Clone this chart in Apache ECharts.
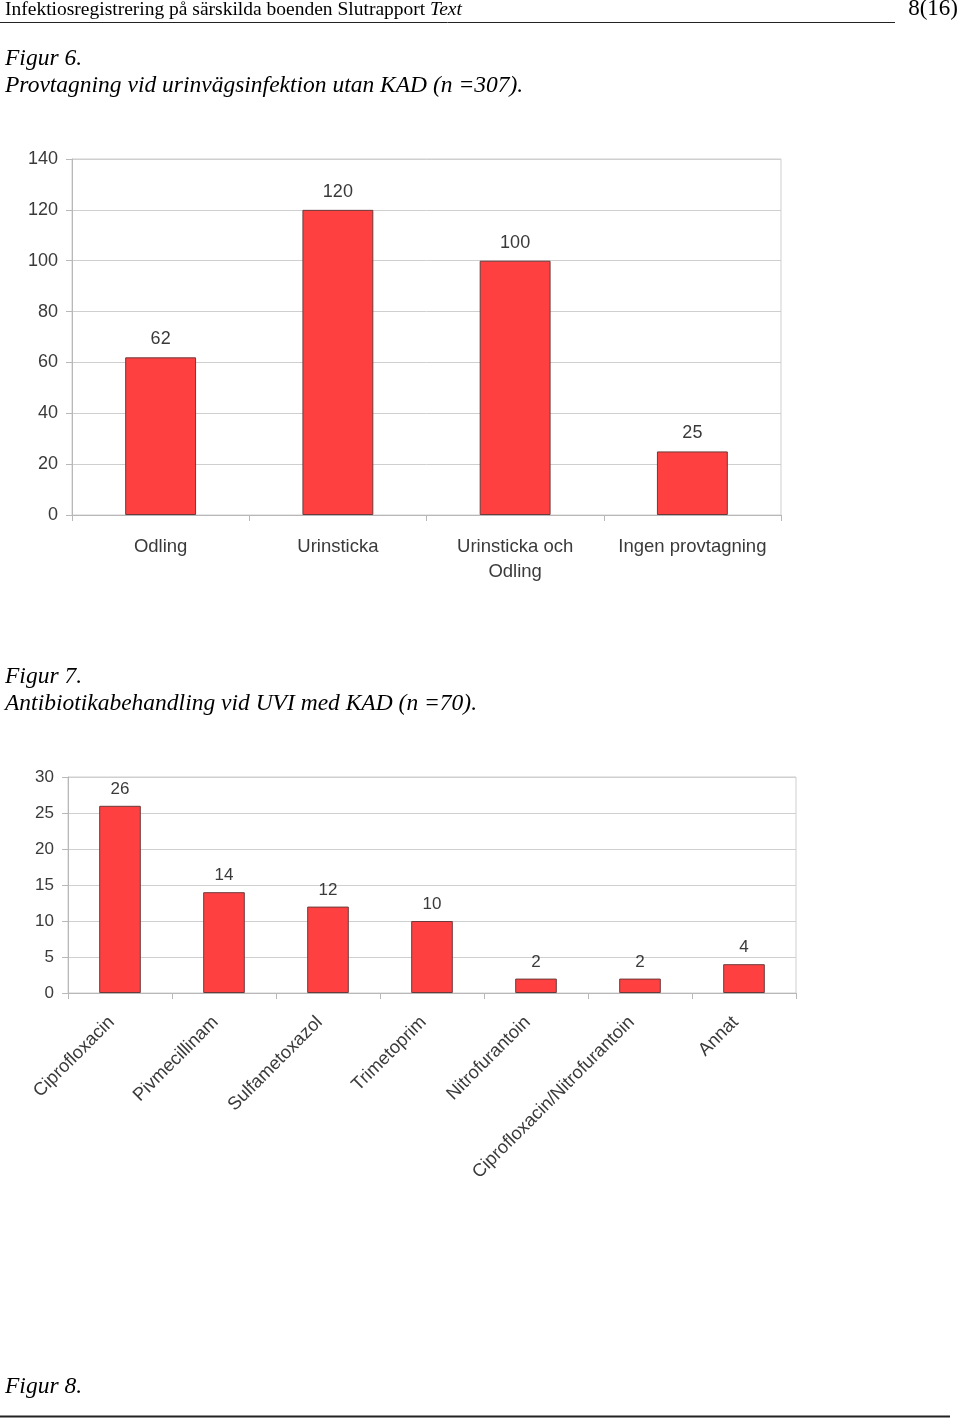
<!DOCTYPE html>
<html>
<head>
<meta charset="utf-8">
<script src="https://cdn.jsdelivr.net/npm/echarts@6/dist/echarts.min.js"></script>
<style>
html,body{margin:0;padding:0;background:#fff;}
#c{width:960px;height:1419px;}
</style>
</head>
<body>
<div id="c"></div>
<script>
// Figur 6 data
const fig6Categories = ['Odling', 'Urinsticka', 'Urinsticka och\nOdling', 'Ingen provtagning'];
const fig6Values = [62, 120, 100, 25];
const fig6YTicks = [0, 20, 40, 60, 80, 100, 120, 140];

// Figur 7 data
const fig7Categories = ['Ciprofloxacin', 'Pivmecillinam', 'Sulfametoxazol', 'Trimetoprim', 'Nitrofurantoin', 'Ciprofloxacin/Nitrofurantoin', 'Annat'];
const fig7Values = [26, 14, 12, 10, 2, 2, 4];
const fig7YTicks = [0, 5, 10, 15, 20, 25, 30];

const textColor = '#3a3a3a';
const gridGrey = '#cfcfcf';
const axisGrey = '#b8b8b8';
const barColor = '#ff4040';
const barBorder = '#6a3a3a';
const sans = '"Liberation Sans", Arial, sans-serif';
const serif = '"Liberation Serif", "Times New Roman", serif';

function yAxis(gridIndex, ticks, fontSize) {
  return {
    type: 'value', gridIndex: gridIndex,
    min: ticks[0], max: ticks[ticks.length - 1], interval: ticks[1] - ticks[0],
    axisLine: {show: true, lineStyle: {color: axisGrey}},
    axisTick: {show: true, length: 6, lineStyle: {color: axisGrey}},
    axisLabel: {color: textColor, fontSize: fontSize, fontFamily: sans, margin: 14},
    splitLine: {show: true, lineStyle: {color: gridGrey}}
  };
}

const chart = echarts.init(document.getElementById('c'), null, {renderer: 'canvas'});
chart.setOption({
  backgroundColor: '#fff',
  animation: false,
  grid: [
    {left: 72, right: 179, top: 159, height: 356, show: true, borderColor: gridGrey, borderWidth: 1, containLabel: false},
    {left: 68, right: 164, top: 777, height: 216, show: true, borderColor: gridGrey, borderWidth: 1, containLabel: false}
  ],
  xAxis: [
    {
      type: 'category', gridIndex: 0, data: fig6Categories,
      axisLine: {show: true, lineStyle: {color: axisGrey}},
      axisTick: {show: true, length: 6, interval: 0, lineStyle: {color: axisGrey}},
      axisLabel: {color: textColor, fontSize: 18.5, fontFamily: sans, margin: 19, interval: 0, lineHeight: 25}
    },
    {
      type: 'category', gridIndex: 1, data: fig7Categories,
      axisLine: {show: true, lineStyle: {color: axisGrey}},
      axisTick: {show: true, length: 6, interval: 0, lineStyle: {color: axisGrey}},
      axisLabel: {color: textColor, fontSize: 18.3, fontFamily: sans, margin: 18, interval: 0, rotate: 45, padding: [0, 12, 0, 0]}
    }
  ],
  yAxis: [yAxis(0, fig6YTicks, 18), yAxis(1, fig7YTicks, 17)],
  series: [
    {
      type: 'bar', xAxisIndex: 0, yAxisIndex: 0, data: fig6Values, barWidth: '40%',
      itemStyle: {color: barColor, borderColor: barBorder, borderWidth: 1},
      label: {show: true, position: 'top', distance: 9, color: textColor, fontSize: 18, fontFamily: sans}
    },
    {
      type: 'bar', xAxisIndex: 1, yAxisIndex: 1, data: fig7Values, barWidth: '40%',
      itemStyle: {color: barColor, borderColor: barBorder, borderWidth: 1},
      label: {show: true, position: 'top', distance: 8, color: textColor, fontSize: 17, fontFamily: sans}
    }
  ],
  graphic: [
    {type: 'text', left: 5, top: 0, style: {
      text: '{n|Infektiosregistrering på särskilda boenden Slutrapport }{i|Text}',
      rich: {
        n: {font: '19.5px ' + serif, fill: '#000'},
        i: {font: 'italic 19.5px ' + serif, fill: '#000'}
      }
    }},
    {type: 'text', right: 2, top: -3, style: {text: '8(16)', font: '23px ' + serif, fill: '#000'}},
    {type: 'line', shape: {x1: 0, y1: 22.5, x2: 895, y2: 22.5}, style: {stroke: '#222', lineWidth: 1}},
    {type: 'text', left: 5, top: 47, style: {text: 'Figur 6.', font: 'italic 23.5px ' + serif, fill: '#000'}},
    {type: 'text', left: 5, top: 74, style: {text: 'Provtagning vid urinvägsinfektion utan KAD (n =307).', font: 'italic 23.5px ' + serif, fill: '#000'}},
    {type: 'text', left: 5, top: 665, style: {text: 'Figur 7.', font: 'italic 23.5px ' + serif, fill: '#000'}},
    {type: 'text', left: 5, top: 692, style: {text: 'Antibiotikabehandling vid UVI med KAD (n =70).', font: 'italic 23.5px ' + serif, fill: '#000'}},
    {type: 'text', left: 5, top: 1375, style: {text: 'Figur 8.', font: 'italic 23.5px ' + serif, fill: '#000'}},
    {type: 'line', shape: {x1: 0, y1: 1416.5, x2: 950, y2: 1416.5}, style: {stroke: '#222', lineWidth: 2}}
  ]
});
</script>
</body>
</html>
